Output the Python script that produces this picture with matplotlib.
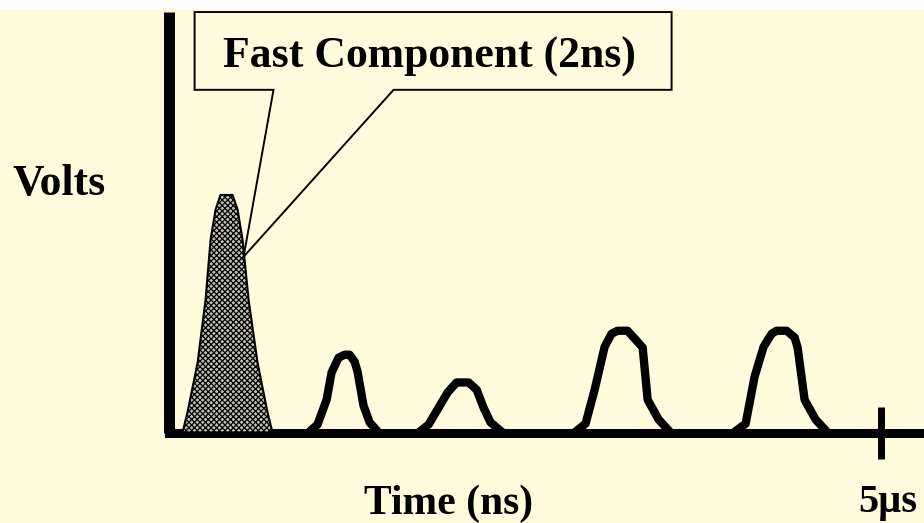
import matplotlib
matplotlib.use("Agg")
import matplotlib.pyplot as plt
from matplotlib.patches import Polygon, Rectangle

# Scintillator output sketch: one fast pulse and several slow pulses (time in µs, volts normalised)
fast_t = [0.098, 0.133, 0.204, 0.260, 0.295, 0.330, 0.365, 0.449, 0.485, 0.520, 0.562, 0.625, 0.695, 0.730]
fast_v = [0.0, 0.048, 0.166, 0.316, 0.458, 0.530, 0.565, 0.565, 0.530, 0.458, 0.316, 0.166, 0.048, 0.0]

pulse1_t = [0.983, 1.046, 1.110, 1.145, 1.194, 1.236, 1.271, 1.306, 1.327, 1.369, 1.412, 1.475]
pulse1_v = [0.0, 0.019, 0.078, 0.143, 0.178, 0.185, 0.185, 0.169, 0.145, 0.064, 0.024, 0.0]

pulse2_t = [1.756, 1.826, 1.889, 1.959, 2.022, 2.107, 2.163, 2.212, 2.261, 2.346]
pulse2_v = [0.0, 0.019, 0.055, 0.095, 0.119, 0.119, 0.102, 0.059, 0.024, 0.0]

pulse3_t = [2.851, 2.928, 2.992, 3.062, 3.111, 3.153, 3.223, 3.279, 3.329, 3.364, 3.441, 3.525]
pulse3_v = [0.0, 0.021, 0.102, 0.204, 0.235, 0.242, 0.242, 0.221, 0.202, 0.078, 0.031, 0.0]

pulse4_t = [3.968, 4.052, 4.115, 4.178, 4.235, 4.270, 4.340, 4.396, 4.417, 4.466, 4.543, 4.628]
pulse4_v = [0.0, 0.021, 0.133, 0.204, 0.235, 0.242, 0.242, 0.226, 0.202, 0.078, 0.031, 0.0]

# Callout outline for the fast component label
callout_t = [0.183, 3.532, 3.532, 1.580, 0.527, 0.737, 0.183]
callout_v = [1.000, 1.000, 0.815, 0.815, 0.418, 0.815, 0.815]

tick_t = [5.0]
tick_labels = ["5µs"]

BG = "#FFFCDE"
SERIF = ["Liberation Serif", "DejaVu Serif"]

fig = plt.figure(figsize=(9.24, 5.23), dpi=100, facecolor="white")
fig.patches.append(Rectangle((0, 0), 1, 0.982, transform=fig.transFigure,
                             facecolor=BG, edgecolor="none", zorder=-10))

ax = fig.add_axes([0.1824, 0.1730, 0.8177, 0.804])
ax.set_facecolor("none")
ax.set_xlim(0, 5.305)
ax.set_ylim(0, 1)

for side in ("top", "right"):
    ax.spines[side].set_visible(False)
ax.spines["left"].set_linewidth(7.9)
ax.spines["bottom"].set_linewidth(6.5)
ax.spines["left"].set_capstyle("butt")
ax.spines["bottom"].set_capstyle("projecting")
for side in ("left", "bottom"):
    ax.spines[side].set_color("black")
ax.spines["bottom"].set_clip_on(False)

ax.set_yticks([])
ax.set_xticks(tick_t)
ax.set_xticklabels([])
ax.tick_params(axis="x", direction="inout", length=37, width=5.0, color="black")

# fast component: patterned fill
plt.rcParams["hatch.color"] = "#55554d"
plt.rcParams["hatch.linewidth"] = 0.9
ax.fill(fast_t, fast_v, facecolor="#c2c2b2", edgecolor="black", hatch="xxxxxx",
        linewidth=1.5, zorder=3)

for t, v in [(pulse1_t, pulse1_v), (pulse2_t, pulse2_v),
             (pulse3_t, pulse3_v), (pulse4_t, pulse4_v)]:
    ax.plot(t, v, color="black", linewidth=6.0, solid_joinstyle="round",
            solid_capstyle="round", zorder=4)

ax.add_patch(Polygon(list(zip(callout_t, callout_v)), closed=True, facecolor=BG,
                     edgecolor="black", linewidth=1.4, zorder=5, clip_on=False))
ax.text(1.829, 0.869, "Fast Component (2ns)", ha="center", va="baseline",
        fontsize=31.5, fontweight="bold", family=SERIF, zorder=6)

ax.text(5.049, -0.188, tick_labels[0], ha="center", va="baseline",
        fontsize=29, fontweight="bold", family=SERIF, clip_on=False)
ax.text(1.963, -0.193, "Time (ns)", ha="center", va="baseline",
        fontsize=30, fontweight="bold", family=SERIF, clip_on=False)
fig.text(0.013, 0.627, "Volts", ha="left", va="baseline",
         fontsize=31.5, fontweight="bold", family=SERIF)

fig.savefig("out.png", dpi=100, facecolor=fig.get_facecolor())
